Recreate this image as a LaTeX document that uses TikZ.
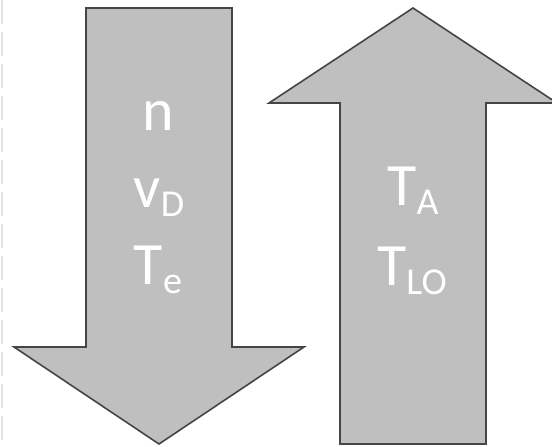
\documentclass[tikz,border=0pt]{standalone}
\usepackage{fontspec}
\setmainfont{Carlito}
\definecolor{arrowfill}{HTML}{BFBFBF}
\definecolor{arrowline}{HTML}{454545}
\definecolor{edgeline}{HTML}{E2E2E2}
\begin{document}
\begin{tikzpicture}[x=1pt,y=-1pt,
  bigarrow/.style={fill=arrowfill,draw=arrowline,line width=1.6pt,line join=miter},
  lbl/.style={text=white,font=\fontsize{60}{60}\selectfont,inner sep=0pt,anchor=base},
]
\useasboundingbox (0,0) rectangle (552,447);
\clip (0,0) rectangle (552,447);
\fill[white] (0,0) rectangle (552,447);
% faint dashed edge on the left
\draw[edgeline,line width=2pt,dash pattern=on 24pt off 8pt] (2,0) -- (2,447);
% downward arrow
\draw[bigarrow] (86,8) -- (232,8) -- (232,347) -- (304,347) -- (159,444) -- (14,347) -- (86,347) -- cycle;
% upward arrow
\draw[bigarrow] (413,8) -- (557,103) -- (486,103) -- (486,444) -- (340,444) -- (340,103) -- (269,103) -- cycle;
% labels
\newcommand{\subtxt}[1]{\raisebox{-9pt}{\fontsize{38}{38}\selectfont #1}}
\node[lbl] (n) at (158,130) {n};
\node[lbl] (vD) at (159,207) {v\subtxt{D}};
\node[lbl] (Te) at (158,284) {T\subtxt{e}};
\node[lbl] (TA) at (413,205) {T\subtxt{A}};
\node[lbl] (TLO) at (412,285) {T\subtxt{LO}};
\end{tikzpicture}
\end{document}
